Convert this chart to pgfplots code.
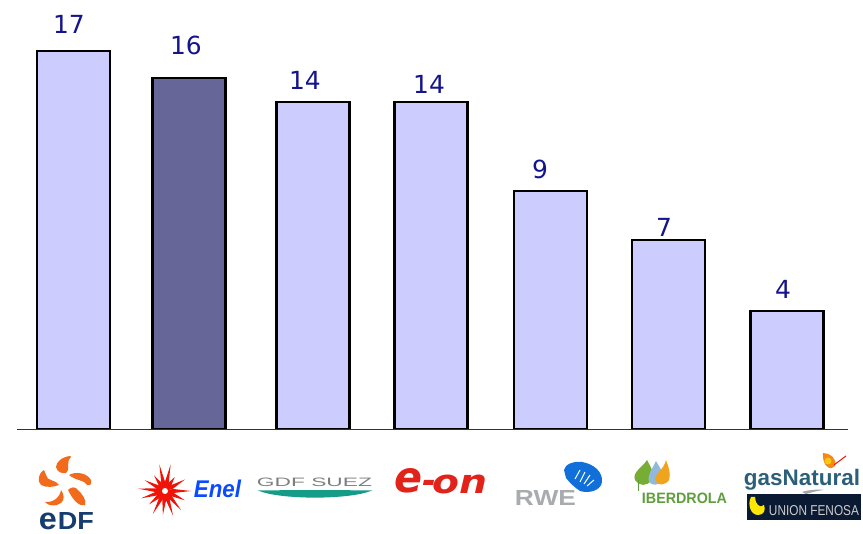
\documentclass[border=0pt]{standalone}
\usepackage{fontspec}
\setmainfont{DejaVu Sans}
\newfontfamily\lib{Liberation Sans}
\usepackage{pgfplots}
\usepackage{pgfplotstable}
\pgfplotsset{compat=1.18}

\definecolor{barlight}{HTML}{CCCCFF}
\definecolor{bardark}{HTML}{666699}
\definecolor{labelblue}{HTML}{14148C}
\definecolor{edforange}{HTML}{F26A1B}
\definecolor{edfblue}{HTML}{163C70}
\definecolor{enelred}{HTML}{F01408}
\definecolor{enelblue}{HTML}{0A4BFF}
\definecolor{suezgrey}{HTML}{7C7F80}
\definecolor{suezteal}{HTML}{149C88}
\definecolor{eonred}{HTML}{E2231A}
\definecolor{rwegrey}{HTML}{A9ACAE}
\definecolor{rweblue}{HTML}{106FD8}
\definecolor{ibgreen}{HTML}{5F9E3C}
\definecolor{ibblue}{HTML}{92B9DC}
\definecolor{iborange}{HTML}{F0A41E}
\definecolor{gasblue}{HTML}{2C5F78}
\definecolor{fenosa}{HTML}{0A1A33}

% bar heights are pixels above the baseline
\pgfplotstableread{
x     h
73.5  378
313   327
431   327
550.5 238
668.5 189
787   118
}\lightbars
\pgfplotstableread{
x   h
189 351
}\darkbar
% value labels sit independently of the bar centres
\pgfplotstableread{
x   y   label
69  405 17
186 384 16
305 349 14
429 345 14
540 260 9
664 202 7
783 140 4
}\barlabels

\begin{document}
\begin{tikzpicture}
\useasboundingbox (0,0) rectangle (863bp,534bp);
\begin{axis}[
    at={(0,0)}, anchor=south west,
    scale only axis, width=863bp, height=534bp,
    xmin=0, xmax=863, ymin=-105, ymax=429,
    axis lines=none, clip=false,
]
\addplot[ybar, bar width=73bp, bar shift=0pt, fill=barlight, draw=black, line width=2.2pt]
    table[x=x, y=h] {\lightbars};
\addplot[ybar, bar width=73bp, bar shift=0pt, fill=bardark, draw=black, line width=2.2pt]
    table[x=x, y=h] {\darkbar};
\addplot[color=black!80, line width=0.8pt] coordinates {(17,0) (848,0)};
\addplot[draw=none, no marks, point meta=explicit symbolic,
    nodes near coords, nodes near coords align=center,
    every node near coord/.append style={anchor=center, inner sep=0pt,
        text=labelblue, font=\fontsize{25}{25}\selectfont}]
    table[x=x, y=y, meta=label] {\barlabels};
\end{axis}

% logos, in reference pixel coordinates
\begin{scope}[yshift=534bp, x=1bp, y=-1bp]
  % EDF
  \fill[edforange] (70,456) .. controls (62,457) and (56,462) .. (56,467) .. controls (57,472) and (62,474) .. (66,473) .. controls (71,470) and (65,463) .. (71,457) -- cycle;
  \fill[edforange] (44,470) .. controls (38,474) and (37,481) .. (41,485) .. controls (46,488) and (54,487) .. (59,485) .. controls (57,480) and (46,481) .. (46,475) -- cycle;
  \fill[edforange] (69,475) .. controls (76,471) and (87,473) .. (91,480) .. controls (92,484) and (90,486) .. (87,485) .. controls (85,480) and (76,481) .. (69,475) -- cycle;
  \fill[edforange] (61,490) .. controls (64,494) and (65,500) .. (61,503) .. controls (56,507) and (48,506) .. (45,502) .. controls (52,503) and (60,498) .. (61,490) -- cycle;
  \fill[edforange] (68,490) .. controls (71,487) and (75,486) .. (78,490) .. controls (82,494) and (87,500) .. (85,505) .. controls (78,507) and (72,498) .. (68,490) -- cycle;
  \node[text=edfblue, inner sep=0pt] at (48,521)
    {\resizebox{18bp}{16.5bp}{\lib\bfseries e}};
  \node[text=edfblue, inner sep=0pt] at (76,521)
    {\resizebox{36bp}{17bp}{\lib\bfseries DF}};
  % Enel
  \begin{scope}[shift={(165,491)}]
  \foreach \a/\r in {0/26,25/22,50/25,72/26,95/24,118/26,140/21,163/25,185/27,208/23,235/19,258/27,282/27,305/17,330/23}
    \fill[enelred] (\a-15:8) -- (\a:\r) -- (\a+15:8) -- (0,0) -- cycle;
  \fill[white] (0,0) circle (3);
  \end{scope}
  \node[text=enelblue, inner sep=0pt] at (217.5,489)
    {\resizebox{47bp}{17.5bp}{\lib\bfseries\itshape Enel}};
  % GDF SUEZ
  \node[text=suezgrey, inner sep=0pt] at (314.5,482.5)
    {\resizebox{115bp}{8.5bp}{\lib GDF SUEZ}};
  \fill[suezteal] (258,490.5) .. controls (290,490) and (340,490) .. (372,490.5) .. controls (350,500) and (280,500) .. (258,490.5) -- cycle;
  % E.ON
  \node[text=eonred, inner sep=0pt] at (409,481)
    {\resizebox{28bp}{24bp}{\bfseries\itshape e}};
  \fill[eonred] (424,480) -- (434,480) -- (433,485) -- (423,485) -- cycle;
  \node[text=eonred, inner sep=0pt] at (460,484)
    {\resizebox{55bp}{18.5bp}{\bfseries\itshape on}};
  % RWE
  \node[text=rwegrey, inner sep=0pt] at (545.5,498.5)
    {\resizebox{61bp}{15bp}{\lib\bfseries RWE}};
  \fill[rweblue] (564,470) .. controls (565,464) and (574,461) .. (582,462) .. controls (594,464) and (603,472) .. (602,482) .. controls (601,490) and (590,494) .. (580,491) .. controls (574,487) and (570,483) .. (566,478) -- cycle;
  \foreach \xa/\ya/\xb/\yb in {580/470/575/479,585/472/580/482,590/475/584/484,594/480/587/486}
    \draw[white, line width=1pt] (\xa,\ya) -- (\xb,\yb);
  % Iberdrola
  \fill[ibgreen!85!yellow] (647,460) .. controls (651,468) and (655,472) .. (651,480) .. controls (648,487) and (638,486) .. (635,480) .. controls (632,472) and (642,468) .. (647,460) -- cycle;
  \fill[ibblue] (656,461) .. controls (660,468) and (665,474) .. (662,480) .. controls (659,486) and (652,486) .. (649,482) .. controls (647,474) and (653,468) .. (656,461) -- cycle;
  \fill[iborange] (666,460) .. controls (669,468) and (671,474) .. (669,480) .. controls (665,486) and (657,486) .. (655,480) .. controls (654,474) and (664,470) .. (666,460) -- cycle;
  \draw[ibgreen, line width=1pt] (638,480) -- (638,491);
  \node[text=ibgreen, inner sep=0pt] at (684.5,498)
    {\resizebox{85bp}{10.5bp}{\lib\bfseries IBERDROLA}};
  % Gas Natural Union Fenosa
  \node[text=gasblue, inner sep=0pt, anchor=base] at (802,486)
    {\resizebox{116bp}{!}{\lib\bfseries gasNatural}};
  \fill[edforange!80!yellow] (823,453) .. controls (830,453) and (837,458) .. (835,466) .. controls (832,471) and (822,468) .. (823,453) -- cycle;
  \fill[iborange!60!yellow] (828,461) circle (3.5);
  \draw[enelred, line width=1pt] (834,465) -- (846,456);
  \fill[suezgrey!70] (802,492) .. controls (808,490) and (818,489) .. (824,490) .. controls (815,491) and (810,493) .. (806,494) -- cycle;
  \fill[fenosa] (747,494) rectangle (861,520);
  \fill[yellow!90!orange] (751,497) .. controls (747,505) and (751,515) .. (758,515) .. controls (764,515) and (766,510) .. (764,505) .. controls (760,509) and (755,504) .. (755,497) -- cycle;
  \node[text=white!80!black, inner sep=0pt] at (814,511)
    {\resizebox{90bp}{10bp}{\lib UNION FENOSA}};
\end{scope}
\end{tikzpicture}
\end{document}
